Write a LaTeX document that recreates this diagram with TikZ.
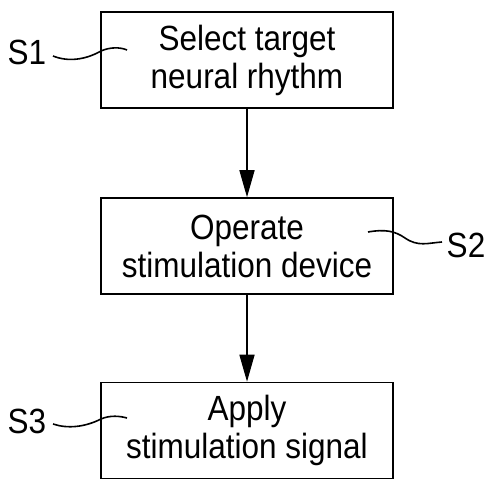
\documentclass[tikz,border=0pt]{standalone}
\usepackage{fontspec}
\setmainfont{Liberation Sans}[FakeStretch=0.9]
\usetikzlibrary{arrows.meta}
\begin{document}
\begin{tikzpicture}[x=1pt,y=-1pt,
  stepbox/.style={draw, line width=1.6pt, minimum width=292pt, minimum height=96pt,
    align=center, inner sep=0pt, font=\fontsize{35}{38}\selectfont},
  steplabel/.style={font=\fontsize{35}{38}\selectfont, inner sep=0pt},
  flow/.style={line width=1.6pt, -{Triangle[width=15pt,length=27pt]}},
  lead/.style={line width=1.6pt}]
\useasboundingbox (0,0) rectangle (489,479);
\node[stepbox] (b1) at (247,60) {Select target\\neural rhythm};
\node[stepbox] (b2) at (247,246) {Operate\\stimulation device};
\node[stepbox] (b3) at (247,430.5) {Apply\\stimulation signal};
\draw[flow] (b1) -- (b2);
\draw[flow] (b2) -- (b3);
\node[steplabel] (s1) at (27,52) {S1};
\node[steplabel] (s2) at (466,245) {S2};
\node[steplabel] (s3) at (27,421) {S3};
% lead lines from the step numbers to their boxes
\coordinate (a1) at (53,56);
\coordinate (l1) at (127,50);
\coordinate (l2) at (368,232);
\coordinate (a2) at (442,242);
\coordinate (a3) at (53,424);
\coordinate (l3) at (127,418);
\draw[lead] (a1) .. controls (68,62) and (85,60) .. (101,51)
  .. controls (110,47) and (120,47) .. (l1);
\draw[lead] (l2) .. controls (385,229) and (395,231) .. (405,238)
  .. controls (418,247) and (428,243) .. (a2);
\draw[lead] (a3) .. controls (68,429) and (85,427) .. (101,419)
  .. controls (110,415) and (120,416) .. (l3);
\end{tikzpicture}
\end{document}
